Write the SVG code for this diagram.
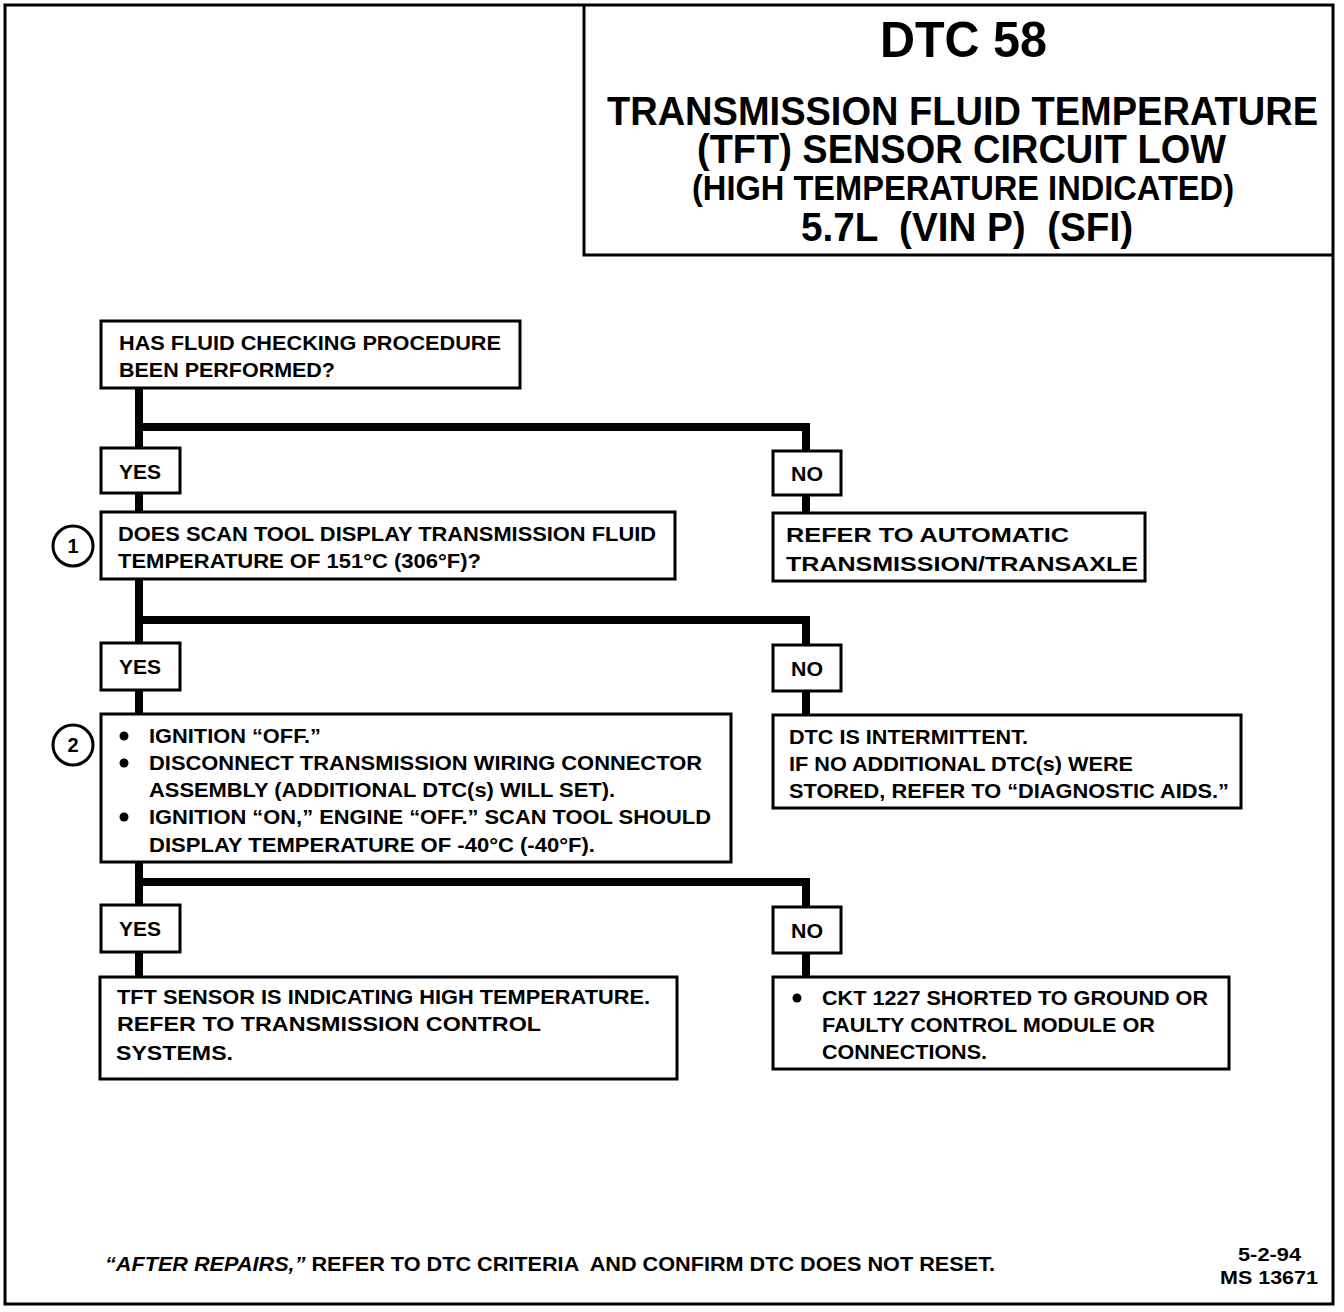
<svg xmlns="http://www.w3.org/2000/svg" width="1344" height="1312" viewBox="0 0 1344 1312">
<defs>
<style>
.box{fill:#fff;stroke:#000;stroke-width:3}
.lbl{fill:#fff;stroke:#000;stroke-width:3}
.con{fill:none;stroke:#000;stroke-width:8;stroke-linejoin:miter}
text{font-family:"Liberation Sans",Arial,sans-serif;font-weight:bold;fill:#000}
.t{font-size:21px}
.tt{font-size:40px}
.circ{fill:#fff;stroke:#000;stroke-width:3}
.num{font-size:20px;text-anchor:middle}
</style>
</defs>
<rect x="0" y="0" width="1344" height="1312" fill="#fff"/>
<rect x="5" y="5" width="1328" height="1299" fill="none" stroke="#000" stroke-width="3"/>

<g id="title">
<path d="M584,5 V255 H1333" fill="none" stroke="#000" stroke-width="3"/>
<text x="880" y="57" style="font-size:50px" textLength="167" lengthAdjust="spacingAndGlyphs">DTC 58</text>
<text class="tt" x="607" y="125" textLength="711" lengthAdjust="spacingAndGlyphs">TRANSMISSION FLUID TEMPERATURE</text>
<text class="tt" x="697" y="163" textLength="529" lengthAdjust="spacingAndGlyphs">(TFT) SENSOR CIRCUIT LOW</text>
<text x="692" y="200" style="font-size:35px" textLength="542" lengthAdjust="spacingAndGlyphs">(HIGH TEMPERATURE INDICATED)</text>
<text class="tt" x="801" y="241" textLength="332" lengthAdjust="spacingAndGlyphs" xml:space="preserve">5.7L  (VIN P)  (SFI)</text>
</g>

<g id="connectors">
<path class="con" d="M139,388 V448"/>
<path class="con" d="M139,427 H806 V451"/>
<path class="con" d="M139,493 V512"/>
<path class="con" d="M806,495 V513"/>
<path class="con" d="M139,579 V643"/>
<path class="con" d="M139,620 H806 V645"/>
<path class="con" d="M139,690 V714"/>
<path class="con" d="M806,691 V715"/>
<path class="con" d="M139,862 V905"/>
<path class="con" d="M139,882 H806 V907"/>
<path class="con" d="M139,952 V977"/>
<path class="con" d="M806,953 V977"/>
</g>

<g id="q0">
<rect class="box" x="101" y="321" width="419" height="67"/>
<text class="t" x="119" y="350" textLength="382" lengthAdjust="spacingAndGlyphs">HAS FLUID CHECKING PROCEDURE</text>
<text class="t" x="119" y="377" textLength="216" lengthAdjust="spacingAndGlyphs">BEEN PERFORMED?</text>
</g>

<g id="yes1">
<rect class="lbl" x="101" y="448" width="79" height="45"/>
<text class="t" x="119" y="479" textLength="42" lengthAdjust="spacingAndGlyphs">YES</text>
</g>
<g id="no1">
<rect class="lbl" x="773" y="451" width="68" height="44"/>
<text class="t" x="791" y="481" textLength="32" lengthAdjust="spacingAndGlyphs">NO</text>
</g>

<g id="q1">
<circle class="circ" cx="73" cy="546" r="20"/>
<text class="num" x="73" y="553">1</text>
<rect class="box" x="101" y="512" width="574" height="67"/>
<text class="t" x="118" y="541" textLength="538" lengthAdjust="spacingAndGlyphs">DOES SCAN TOOL DISPLAY TRANSMISSION FLUID</text>
<text class="t" x="118" y="568" textLength="363" lengthAdjust="spacingAndGlyphs">TEMPERATURE OF 151°C (306°F)?</text>
</g>

<g id="r1">
<rect class="box" x="773" y="513" width="372" height="68"/>
<text class="t" x="786" y="542" textLength="283" lengthAdjust="spacingAndGlyphs">REFER TO AUTOMATIC</text>
<text class="t" x="786" y="571" textLength="352" lengthAdjust="spacingAndGlyphs">TRANSMISSION/TRANSAXLE</text>
</g>

<g id="yes2">
<rect class="lbl" x="101" y="643" width="79" height="47"/>
<text class="t" x="119" y="674" textLength="42" lengthAdjust="spacingAndGlyphs">YES</text>
</g>
<g id="no2">
<rect class="lbl" x="773" y="645" width="68" height="46"/>
<text class="t" x="791" y="676" textLength="32" lengthAdjust="spacingAndGlyphs">NO</text>
</g>

<g id="q2">
<circle class="circ" cx="73" cy="745" r="20"/>
<text class="num" x="73" y="752">2</text>
<rect class="box" x="101" y="714" width="630" height="148"/>
<circle cx="124" cy="736" r="4.5"/>
<circle cx="124" cy="763" r="4.5"/>
<circle cx="124" cy="817" r="4.5"/>
<text class="t" x="149" y="743" textLength="172" lengthAdjust="spacingAndGlyphs">IGNITION “OFF.”</text>
<text class="t" x="149" y="770" textLength="553" lengthAdjust="spacingAndGlyphs">DISCONNECT TRANSMISSION WIRING CONNECTOR</text>
<text class="t" x="149" y="797" textLength="466" lengthAdjust="spacingAndGlyphs">ASSEMBLY (ADDITIONAL DTC(s) WILL SET).</text>
<text class="t" x="149" y="824" textLength="562" lengthAdjust="spacingAndGlyphs">IGNITION “ON,” ENGINE “OFF.” SCAN TOOL SHOULD</text>
<text class="t" x="149" y="852" textLength="446" lengthAdjust="spacingAndGlyphs">DISPLAY TEMPERATURE OF -40°C (-40°F).</text>
</g>

<g id="r2">
<rect class="box" x="773" y="715" width="468" height="93"/>
<text class="t" x="789" y="744" textLength="239" lengthAdjust="spacingAndGlyphs">DTC IS INTERMITTENT.</text>
<text class="t" x="789" y="771" textLength="344" lengthAdjust="spacingAndGlyphs">IF NO ADDITIONAL DTC(s) WERE</text>
<text class="t" x="789" y="798" textLength="440" lengthAdjust="spacingAndGlyphs">STORED, REFER TO “DIAGNOSTIC AIDS.”</text>
</g>

<g id="yes3">
<rect class="lbl" x="101" y="905" width="79" height="47"/>
<text class="t" x="119" y="936" textLength="42" lengthAdjust="spacingAndGlyphs">YES</text>
</g>
<g id="no3">
<rect class="lbl" x="773" y="907" width="68" height="46"/>
<text class="t" x="791" y="938" textLength="32" lengthAdjust="spacingAndGlyphs">NO</text>
</g>

<g id="r3">
<rect class="box" x="100" y="977" width="577" height="102"/>
<text class="t" x="117" y="1004" textLength="533" lengthAdjust="spacingAndGlyphs">TFT SENSOR IS INDICATING HIGH TEMPERATURE.</text>
<text class="t" x="117" y="1031" textLength="424" lengthAdjust="spacingAndGlyphs">REFER TO TRANSMISSION CONTROL</text>
<text class="t" x="116" y="1060" textLength="117" lengthAdjust="spacingAndGlyphs">SYSTEMS.</text>
</g>

<g id="r4">
<rect class="box" x="773" y="977" width="456" height="92"/>
<circle cx="797" cy="998" r="4.5"/>
<text class="t" x="822" y="1005" textLength="386" lengthAdjust="spacingAndGlyphs">CKT 1227 SHORTED TO GROUND OR</text>
<text class="t" x="822" y="1032" textLength="333" lengthAdjust="spacingAndGlyphs">FAULTY CONTROL MODULE OR</text>
<text class="t" x="822" y="1059" textLength="165" lengthAdjust="spacingAndGlyphs">CONNECTIONS.</text>
</g>

<g id="footer">
<text x="105" y="1271" style="font-size:20px" textLength="890" lengthAdjust="spacingAndGlyphs" xml:space="preserve"><tspan font-style="italic">“AFTER REPAIRS,”</tspan> REFER TO DTC CRITERIA  AND CONFIRM DTC DOES NOT RESET.</text>
<text x="1238" y="1261" style="font-size:19px" textLength="63" lengthAdjust="spacingAndGlyphs">5-2-94</text>
<text x="1220" y="1284" style="font-size:19px" textLength="98" lengthAdjust="spacingAndGlyphs">MS 13671</text>
</g>
</svg>
